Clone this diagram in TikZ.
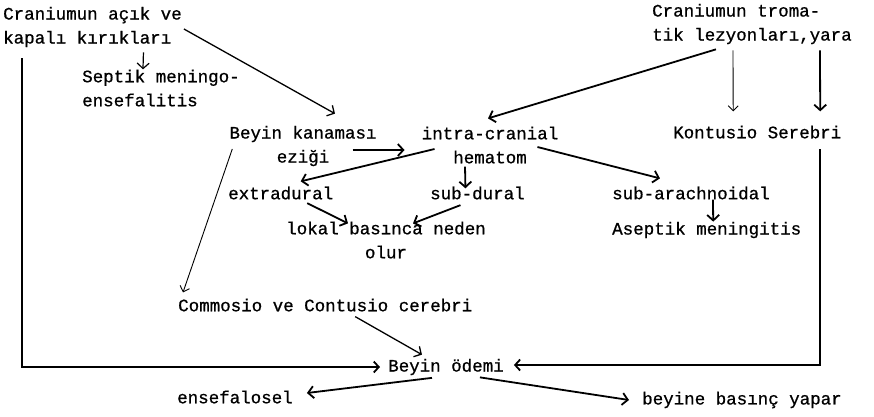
\documentclass[tikz,border=0pt]{standalone}
\usepackage{fontspec}
\setmonofont{Liberation Mono}[FakeBold=0.8]
\usetikzlibrary{arrows.meta}

\begin{document}
\begin{tikzpicture}[x=1pt,y=-1pt,
	lbl/.style={font=\ttfamily\fontsize{17.5}{24}\selectfont, inner sep=0pt},
	flow/.style={-{Straight Barb[length=5.5pt,width=12pt]}, line width=1.8pt},
	thinflow/.style={-{Straight Barb[length=5pt,width=10pt]}, line width=0.9pt},
	frame/.style={-{Straight Barb[length=5pt,width=11pt]}, line width=1.8pt}]
	\useasboundingbox (0,0) rectangle (874,416);

	\node[lbl, anchor=west, align=left](kir) at (3,27) {Craniumun açık ve\\kapalı kırıkları};
	\node[lbl, anchor=west, align=left](sep) at (82,88) {Septik meningo-\\ensefalitis};
	\node[lbl, anchor=west, align=left](trom) at (652,24) {Craniumun troma-\\tik lezyonları,yara};
	\node[lbl, anchor=west](kont) at (673,132) {Kontusio Serebri};

	\node[lbl, align=center](kan) at (303,146) {Beyin kanaması\\eziği};
	\node[lbl, align=center](ich) at (490,145) {intra-cranial\\hematom};
	\node[lbl, anchor=west](ext) at (228,193) {extradural};
	\node[lbl, anchor=west](sdur) at (430,193) {sub-dural};
	\node[lbl, anchor=west](arach) at (612,193) {sub-arachnoidal};
	\node[lbl, anchor=west](asep) at (612,230) {Aseptik meningitis};
	\node[lbl, align=center](lok) at (386,240) {lokal basınca neden\\olur};

	\node[lbl, anchor=west](comm) at (178,305) {Commosio ve Contusio cerebri};
	\node[lbl, anchor=west](odem) at (388,367) {Beyin ödemi};
	\node[lbl, anchor=west](ens) at (177,397) {ensefalosel};
	\node[lbl, anchor=west](bas) at (642,400) {beyine basınç yapar};

	% upper part
	\draw[flow, line width=1.2pt]([shift={(51,5)}]kir.south) -- ([shift={(-18,0)}]sep.north);
	\draw[flow, line width=1.3pt]([shift={(2,2)}]kir.east) -- ([shift={(32,-12)}]kan.north);
	\draw[flow]([shift={(-36,5)}]trom.south) -- ([shift={(-2,-8)}]ich.north);
	\draw[thinflow]([shift={(-19,6)}]trom.south) -- ([shift={(-24,-14)}]kont.north);
	\draw[flow]([shift={(68,6)}]trom.south) -- ([shift={(63,-14)}]kont.north);

	% hematom
	\draw[flow]([shift={(-24,4)}]kan.east) -- ([shift={(-17,5)}]ich.west);
	\draw[flow]([shift={(13,4)}]ich.west) -- ([shift={(20,-5)}]ext.north);
	\draw[flow]([shift={(-25,3)}]ich.south) -- ([shift={(-12,2)}]sdur.north);
	\draw[flow]([shift={(-21,2)}]ich.east) -- ([shift={(-31,-8)}]arach.north);
	\draw[flow]([shift={(22,0)}]arach.south) -- ([shift={(6.5,0)}]asep.north);
	\draw[flow]([shift={(26.5,3.5)}]ext.south) -- ([shift={(-38,2)}]lok.north);
	\draw[flow]([shift={(-17,5.5)}]sdur.south) -- ([shift={(27,2)}]lok.north);

	% lower part
	\draw[thinflow]([shift={(3,3)}]kan.west) -- ([shift={(5,-6)}]comm.north west);
	\draw[flow, line width=1.3pt]([shift={(30,5)}]comm.south) -- ([shift={(-24,-4)}]odem.north);
	\draw[frame]([shift={(19,11)}]kir.south west) |- ([shift={(-8,0)}]odem.west);
	\draw[frame]([shift={(63,10.5)}]kont.south) |- ([shift={(10,-2)}]odem.east);
	\draw[flow]([shift={(-14,2.5)}]odem.south) -- ([shift={(14,-4)}]ens.east);
	\draw[flow]([shift={(34,2)}]odem.south) -- ([shift={(-13,0)}]bas.west);
\end{tikzpicture}
\end{document}
